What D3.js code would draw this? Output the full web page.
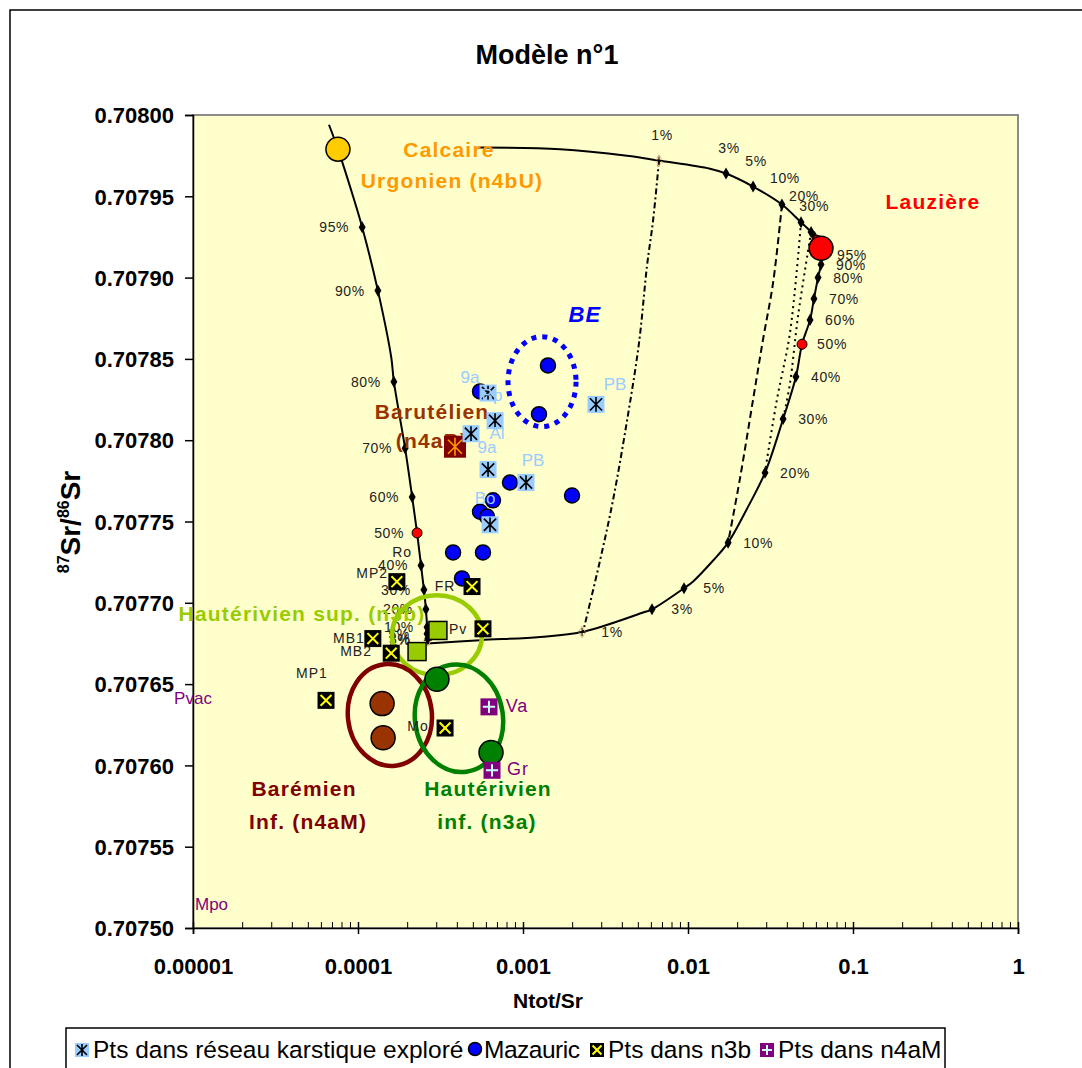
<!DOCTYPE html>
<html>
<head>
<meta charset="utf-8">
<script src="https://cdn.jsdelivr.net/npm/d3@7"></script>
<style>
  body { margin: 0; background: #fff; }
  svg text { font-family: "Liberation Sans", Arial, sans-serif; }
</style>
</head>
<body>
<svg id="chart" width="1082" height="1068"></svg>
<script>
// axes
const yTicks = [0.7075, 0.70755, 0.7076, 0.70765, 0.7077, 0.70775, 0.7078, 0.70785, 0.7079, 0.70795, 0.708];
const xDecades = [0.00001, 0.0001, 0.001, 0.01, 0.1, 1];
const xTickLabels = ["0.00001", "0.0001", "0.001", "0.01", "0.1", "1"];

// mélange Calcaire Urgonien -> Lauzière (courbe du haut)
const mixTopX = [0.000534, 0.001676, 0.00427, 0.00667, 0.0136, 0.0170, 0.0248, 0.0371, 0.0484, 0.0557, 0.0605, 0.0640];
const mixTopY = [0.707980, 0.707979, 0.707975, 0.707972, 0.707967, 0.707964, 0.707956, 0.707945, 0.707934, 0.707928, 0.707923, 0.707918];
const topPct = ["1%", "3%", "5%", "10%", "20%", "30%", "", "", "", "", ""];
const topPctX = [0.00667, 0.0170, 0.0248, 0.0371, 0.0484, 0.0557, 0.0585, 0.0618, 0.0626, 0.0632, 0.0637];
const topPctY = [0.707972, 0.707964, 0.707956, 0.707945, 0.707934, 0.707928, 0.707925, 0.707921, 0.707920, 0.707919, 0.707918];

// mélange Lauzière -> Hautérivien sup. (courbe de droite)
const mixRightX = [0.0640, 0.0649, 0.0640, 0.0614, 0.0580, 0.0549, 0.0491, 0.0451, 0.0377, 0.0293, 0.0231, 0.0175, 0.0142, 0.0107, 0.00946, 0.00605, 0.00534, 0.00228, 0.00127, 0.000549, 0.000262];
const mixRightY = [0.707918, 0.707914, 0.707908, 0.707900, 0.707887, 0.707874, 0.707859, 0.707839, 0.707813, 0.707780, 0.707759, 0.707737, 0.707726, 0.707713, 0.707709, 0.707696, 0.707694, 0.707682, 0.707679, 0.707677, 0.707675];
const rightPct = ["95%", "90%", "80%", "70%", "60%", "50%", "40%", "30%", "20%", "10%", "5%", "3%", "1%"];
const rightPctX = [0.0649, 0.0640, 0.0614, 0.0580, 0.0549, 0.0491, 0.0451, 0.0377, 0.0293, 0.0175, 0.00946, 0.00605, 0.00228];
const rightPctY = [0.707914, 0.707908, 0.707900, 0.707887, 0.707874, 0.707859, 0.707839, 0.707813, 0.707780, 0.707737, 0.707709, 0.707696, 0.707682];

// mélange Hautérivien sup. -> Calcaire Urgonien (courbe de gauche)
const mixLeftX = [0.000262, 0.000262, 0.000262, 0.000258, 0.000251, 0.000241, 0.000228, 0.000213, 0.000193, 0.000165, 0.000159, 0.000132, 0.000106, 0.0000933, 0.0000756, 0.0000667];
const mixLeftY = [0.707675, 0.707681, 0.707685, 0.707696, 0.707708, 0.707723, 0.707743, 0.707765, 0.707795, 0.707836, 0.707851, 0.707892, 0.707931, 0.707950, 0.707979, 0.707994];
const leftPct = ["1%", "3%", "5%", "10%", "20%", "30%", "40%", "50%", "60%", "70%", "80%", "90%", "95%"];
const leftPctX = [0.000265, 0.000265, 0.000262, 0.000262, 0.000258, 0.000251, 0.000241, 0.000228, 0.000213, 0.000193, 0.000165, 0.000132, 0.000106];
const leftPctY = [0.707677, 0.707678, 0.707681, 0.707685, 0.707696, 0.707708, 0.707723, 0.707743, 0.707765, 0.707795, 0.707836, 0.707892, 0.707931];

// points 50% (rouge)
const halfX = [0.000228, 0.0491, 0.0605];
const halfY = [0.707743, 0.707859, 0.707923];

// lignes d'iso-proportion
const tie1X = [0.00667, 0.00614, 0.00564, 0.00505, 0.00427, 0.00351, 0.00293, 0.00231];
const tie1Y = [0.707972, 0.707935, 0.707907, 0.707860, 0.707812, 0.707763, 0.707726, 0.707682];
const tie10X = [0.0371, 0.0328, 0.0285, 0.0248, 0.0207, 0.0175];
const tie10Y = [0.707945, 0.707897, 0.707862, 0.707825, 0.707777, 0.707737];
const tie20X = [0.0484, 0.0415, 0.0346, 0.0301, 0.0293];
const tie20Y = [0.707934, 0.707866, 0.707825, 0.707788, 0.707780];
const tie30X = [0.0557, 0.0464, 0.0415, 0.0377];
const tie30Y = [0.707928, 0.707876, 0.707835, 0.707813];

// pôles
const calcaire = [0.0000756, 0.707979];
const lauziere = [0.0640, 0.707918];
const barutelien = [0.000387, 0.707796];
const n3bSupX = [0.000305, 0.000228];
const n3bSupY = [0.707683, 0.707670];
const n3aInfX = [0.000301, 0.000640];
const n3aInfY = [0.707653, 0.707608];
const baremX = [0.000140, 0.000142];
const baremY = [0.707638, 0.707617];

// séries de la légende
const karstX = [0.000614, 0.000677, 0.000484, 0.000614, 0.001043, 0.002770, 0.000631];
const karstY = [0.707829, 0.707812, 0.707804, 0.707782, 0.707774, 0.707822, 0.707748];
const mazauricX = [0.001417, 0.001250, 0.000549, 0.000834, 0.001982, 0.000658, 0.000549, 0.000605, 0.000377, 0.000572, 0.000427];
const mazauricY = [0.707846, 0.707816, 0.707830, 0.707774, 0.707766, 0.707763, 0.707756, 0.707753, 0.707731, 0.707731, 0.707715];
const n3bX = [0.000172, 0.000491, 0.000572, 0.000123, 0.000159, 0.0000640, 0.000337];
const n3bY = [0.707713, 0.707710, 0.707684, 0.707678, 0.707669, 0.707640, 0.707623];
const n4aMX = [0.000622, 0.000649];
const n4aMY = [0.707636, 0.707597];

// étiquettes des points
const tagKarst = ["9a", "Bp", "Al", "9a", "PB", "PB", "Bo"];
const tagKarstX = [0.000477, 0.000649, 0.000696, 0.000605, 0.00115, 0.003611, 0.000589];
const tagKarstY = [0.707835, 0.707824, 0.707801, 0.707792, 0.707784, 0.707831, 0.707761];
const tagBlack = ["MP2", "Ro", "FR", "Pv", "MB1", "MB2", "MP1", "Mo"];
const tagBlackX = [0.000122, 0.000185, 0.000337, 0.000404, 0.0000882, 0.0000973, 0.0000526, 0.000231];
const tagBlackY = [0.707715, 0.707728, 0.707707, 0.707681, 0.707675, 0.707667, 0.707654, 0.707621];
const tagPurple = ["Va", "Gr", "Pvac", "Mpo"];
const tagPurpleX = [0.000920, 0.000933, 0.00001, 0.0000130];
const tagPurpleY = [0.707633, 0.707594, 0.707638, 0.707511];

// noms des formations
const zoneNames = ["Calcaire", "Urgonien (n4bU)", "Lauzière", "BE", "Barutélien", "(n4aB)", "Hautérivien sup. (n3b)", "Barémien", "Inf. (n4aM)", "Hautérivien", "inf. (n3a)"];
const zoneX = [0.000356, 0.000371, 0.3053, 0.002375, 0.000281, 0.000281, 0.0000458, 0.0000471, 0.0000498, 0.000614, 0.000605];
const zoneY = [0.707974, 0.707955, 0.707942, 0.707873, 0.707813, 0.707795, 0.707689, 0.707581, 0.707561, 0.707581, 0.707561];
const zoneColors = ["#FF9900", "#FF9900", "#FF0000", "#0000FF", "#993300", "#993300", "#99CC00", "#800000", "#800000", "#008000", "#008000"];

// ellipses (centres)
const ellipseNames = ["BE", "n3b", "n4aM", "n3a"];
const ellipseX = [0.001304, 0.000301, 0.000156, 0.000409];
const ellipseY = [0.707836, 0.707680, 0.707631, 0.707629];

const legendNames = ["Pts dans réseau karstique exploré", "Mazauric", "Pts dans n3b", "Pts dans n4aM"];

const svg = d3.select("#chart");
const x = d3.scaleLog().domain([0.00001, 1]).range([193, 1018]);
const y = d3.scaleLinear().domain([0.7075, 0.708]).range([928, 115]);

// cadre
svg.append("rect").attr("x", 10).attr("y", 10).attr("width", 1100).attr("height", 1100)
  .attr("fill", "#fff").attr("stroke", "#000").attr("stroke-width", 1.5);

svg.append("rect").attr("x", 193).attr("y", 115).attr("width", 825).attr("height", 813)
  .attr("fill", "#FFFFCC").attr("stroke", "#8c8c8c").attr("stroke-width", 2);

// title
svg.append("text").attr("x", 547).attr("y", 64).attr("text-anchor", "middle")
  .attr("font-size", 27).attr("font-weight", "bold").text("Modèle n°1");

// y axis
const yAxis = svg.append("g").attr("transform", "translate(193,0)")
  .call(d3.axisLeft(y).tickValues(yTicks).tickFormat(d3.format(".5f")).tickSize(8).tickPadding(11));
yAxis.selectAll("text").attr("font-size", 22).attr("font-weight", "bold").attr("font-family", "Liberation Sans, Arial").attr("fill", "#000").attr("dy", "0.35em");
yAxis.selectAll("line, path").attr("stroke", "#000").attr("stroke-width", 1.5);

// x axis
const xAxis = svg.append("g").attr("transform", "translate(0,928)")
  .call(d3.axisBottom(x).tickValues(xDecades).tickFormat((d, i) => xTickLabels[i]).tickSize(6).tickPadding(24));
xAxis.selectAll("text").attr("font-size", 22).attr("font-weight", "bold").attr("font-family", "Liberation Sans, Arial").attr("fill", "#000");
xAxis.selectAll("line, path").attr("stroke", "#000").attr("stroke-width", 1.5);
xAxis.selectAll(".tick line").attr("y1", -6);
const minor = [];
xDecades.slice(0, -1).forEach(d => { for (let k = 2; k < 10; k++) minor.push(d * k); });
xAxis.selectAll(".minor").data(minor).join("line").attr("class", "minor")
  .attr("x1", d => x(d)).attr("x2", d => x(d)).attr("y1", 0).attr("y2", -6)
  .attr("stroke", "#000").attr("stroke-width", 1);

// axis titles
svg.append("text").attr("x", 548).attr("y", 1008).attr("text-anchor", "middle")
  .attr("font-size", 21).attr("font-weight", "bold").text("Ntot/Sr");
const yl = svg.append("text").attr("transform", "translate(80,522) rotate(-90)")
  .attr("text-anchor", "middle").attr("font-weight", "bold").attr("font-size", 28);
yl.append("tspan").attr("font-size", 16).attr("dy", -11).text("87");
yl.append("tspan").attr("dy", 11).text("Sr/");
yl.append("tspan").attr("font-size", 16).attr("dy", -11).text("86");
yl.append("tspan").attr("dy", 11).text("Sr");

const plot = svg.append("g");
const zip = (xs, ys) => xs.map((v, i) => [v, ys[i]]);
const line = d3.line().x(d => x(d[0])).y(d => y(d[1])).curve(d3.curveCatmullRom.alpha(0.5));

// curves
[[mixTopX, mixTopY], [mixRightX, mixRightY], [mixLeftX, mixLeftY]].forEach(([xs, ys]) => {
  plot.append("path").attr("d", line(zip(xs, ys))).attr("fill", "none").attr("stroke", "#000").attr("stroke-width", 2);
});
[[tie1X, tie1Y, "6,3,2,3"], [tie10X, tie10Y, "7,4"], [tie20X, tie20Y, "2,4"], [tie30X, tie30Y, "2,4"]].forEach(([xs, ys, dash]) => {
  plot.append("path").attr("d", line(zip(xs, ys))).attr("fill", "none").attr("stroke", "#000")
    .attr("stroke-width", 2).attr("stroke-dasharray", dash);
});

// percent markers and labels
const diamond = d3.symbol().type(d3.symbolDiamond).size(42);
function pctSet(labels, xs, ys, dx, dy) {
  xs.forEach((v, i) => {
    const px = x(v), py = y(ys[i]);
    if (labels[i] === "1%") {
      plot.append("path").attr("d", d3.symbol().type(d3.symbolDiamond).size(40)()).attr("transform", `translate(${px},${py})`)
        .attr("fill", "none").attr("stroke", "#f2b48a").attr("stroke-width", 1);
      plot.append("path").attr("d", `M${px - 4},${py}H${px + 4}M${px},${py - 4}V${py + 4}`).attr("stroke", "#000").attr("stroke-width", 1);
    } else {
      plot.append("path").attr("d", diamond()).attr("transform", `translate(${px},${py})`).attr("fill", "#000");
    }
    if (labels[i]) {
      plot.append("text").attr("x", px + dx).attr("y", py + dy).attr("text-anchor", "middle")
        .attr("font-size", 14).attr("letter-spacing", 0.6).attr("fill", "#222").text(labels[i]);
    }
  });
}
pctSet(topPct, topPctX, topPctY, 3, -21);
pctSet(rightPct, rightPctX, rightPctY, 30, 5);
pctSet(leftPct, leftPctX, leftPctY, -28, 5);
halfX.forEach((v, i) => {
  plot.append("circle").attr("cx", x(v)).attr("cy", y(halfY[i])).attr("r", 5)
    .attr("fill", "#FF0000").attr("stroke", "#000").attr("stroke-width", 1);
});

// zone names
zoneNames.forEach((t, i) => {
  plot.append("text").attr("x", x(zoneX[i])).attr("y", y(zoneY[i])).attr("text-anchor", "middle")
    .attr("font-size", t === "BE" ? 22 : 21).attr("font-weight", "bold").attr("letter-spacing", 1.2)
    .attr("font-style", t === "BE" ? "italic" : "normal").attr("fill", zoneColors[i]).text(t);
});

// ellipses
const ellRx = [34, 45, 42, 44], ellRy = [45, 40, 51, 54], ellRot = [0, 0, -6, -8];
const ellColor = ["#0000FF", "#99CC00", "#800000", "#008000"];
ellipseNames.forEach((n, i) => {
  const el = plot.append("ellipse").attr("transform", `translate(${x(ellipseX[i])},${y(ellipseY[i])}) rotate(${ellRot[i]})`)
    .attr("rx", ellRx[i]).attr("ry", ellRy[i]).attr("fill", "none").attr("stroke", ellColor[i]).attr("stroke-width", i === 0 ? 5 : 4.5);
  if (i === 0) el.attr("stroke-dasharray", "5,6");
});

// marker shapes
function karstMark(g, px, py, s) {
  g.append("rect").attr("x", px - s / 2).attr("y", py - s / 2).attr("width", s).attr("height", s).attr("fill", "#99CCFF");
  const a = s * 0.36;
  g.append("path").attr("d", `M${px - a},${py - a}L${px + a},${py + a}M${px - a},${py + a}L${px + a},${py - a}M${px},${py - a * 1.2}V${py + a * 1.2}`)
    .attr("stroke", "#000").attr("stroke-width", 1.6);
}
function mazMark(g, px, py, r) {
  g.append("circle").attr("cx", px).attr("cy", py).attr("r", r).attr("fill", "#0000FF").attr("stroke", "#000").attr("stroke-width", 1.5);
}
function n3bMark(g, px, py, s) {
  g.append("rect").attr("x", px - s / 2).attr("y", py - s / 2).attr("width", s).attr("height", s).attr("fill", "#000");
  const a = s * 0.32;
  g.append("path").attr("d", `M${px - a},${py - a}L${px + a},${py + a}M${px - a},${py + a}L${px + a},${py - a}`)
    .attr("stroke", "#FFFF00").attr("stroke-width", 2);
}
function n4aMMark(g, px, py, s) {
  g.append("rect").attr("x", px - s / 2).attr("y", py - s / 2).attr("width", s).attr("height", s).attr("fill", "#800080");
  const a = s * 0.36;
  g.append("path").attr("d", `M${px - a},${py}H${px + a}M${px},${py - a}V${py + a}`)
    .attr("stroke", "#CCFFFF").attr("stroke-width", 2);
}

// poles
plot.append("circle").attr("cx", x(calcaire[0])).attr("cy", y(calcaire[1])).attr("r", 12)
  .attr("fill", "#FFCC00").attr("stroke", "#000").attr("stroke-width", 1.5);
plot.append("circle").attr("cx", x(lauziere[0])).attr("cy", y(lauziere[1])).attr("r", 12)
  .attr("fill", "#FF0000").attr("stroke", "#000").attr("stroke-width", 1.5);
baremX.forEach((v, i) => plot.append("circle").attr("cx", x(v)).attr("cy", y(baremY[i])).attr("r", 12)
  .attr("fill", "#993300").attr("stroke", "#000").attr("stroke-width", 1.5));
n3aInfX.forEach((v, i) => plot.append("circle").attr("cx", x(v)).attr("cy", y(n3aInfY[i])).attr("r", 12)
  .attr("fill", "#008000").attr("stroke", "#000").attr("stroke-width", 1.5));
n3bSupX.forEach((v, i) => plot.append("rect").attr("x", x(v) - 9).attr("y", y(n3bSupY[i]) - 9).attr("width", 18).attr("height", 18)
  .attr("fill", "#99CC00").attr("stroke", "#000").attr("stroke-width", 1.5));
{
  const px = x(barutelien[0]), py = y(barutelien[1]);
  plot.append("rect").attr("x", px - 11).attr("y", py - 11).attr("width", 22).attr("height", 22).attr("fill", "#800000");
  plot.append("path").attr("d", `M${px - 7},${py - 7}L${px + 7},${py + 7}M${px - 7},${py + 7}L${px + 7},${py - 7}M${px},${py - 9}V${py + 9}`)
    .attr("stroke", "#FF9900").attr("stroke-width", 1.6);
}

// series
mazauricX.forEach((v, i) => mazMark(plot, x(v), y(mazauricY[i]), 7.5));
karstX.forEach((v, i) => karstMark(plot, x(v), y(karstY[i]), 17));
n3bX.forEach((v, i) => n3bMark(plot, x(v), y(n3bY[i]), 17));
n4aMX.forEach((v, i) => n4aMMark(plot, x(v), y(n4aMY[i]), 17));

// point labels
tagKarst.forEach((t, i) => plot.append("text").attr("x", x(tagKarstX[i])).attr("y", y(tagKarstY[i]))
  .attr("text-anchor", "middle").attr("font-size", 17).attr("fill", "#99CCFF").text(t));
tagBlack.forEach((t, i) => plot.append("text").attr("x", x(tagBlackX[i])).attr("y", y(tagBlackY[i]))
  .attr("text-anchor", "middle").attr("font-size", 14).attr("letter-spacing", 1).attr("fill", "#222").text(t));
tagPurple.forEach((t, i) => plot.append("text").attr("x", i === 3 ? 195 : x(tagPurpleX[i])).attr("y", y(tagPurpleY[i]))
  .attr("text-anchor", i === 3 ? "start" : "middle").attr("font-size", i < 2 ? 18 : 17).attr("letter-spacing", i < 2 ? 1 : 0)
  .attr("fill", "#800080").text(t));

// legend
const lg = svg.append("g");
lg.append("rect").attr("x", 66).attr("y", 1028).attr("width", 879).attr("height", 60)
  .attr("fill", "#fff").attr("stroke", "#000").attr("stroke-width", 1.5);
const legX = [82, 475, 597, 767];
const legTextX = [93, 484, 608, 778];
karstMark(lg, legX[0], 1050, 14);
mazMark(lg, legX[1], 1049, 6.5);
n3bMark(lg, legX[2], 1050, 14);
n4aMMark(lg, legX[3], 1050, 14);
legendNames.forEach((t, i) => lg.append("text").attr("x", legTextX[i]).attr("y", 1058)
  .attr("font-size", 24.5).attr("textLength", i === 1 ? 96 : null).attr("fill", "#000").text(t));
</script>
</body>
</html>
